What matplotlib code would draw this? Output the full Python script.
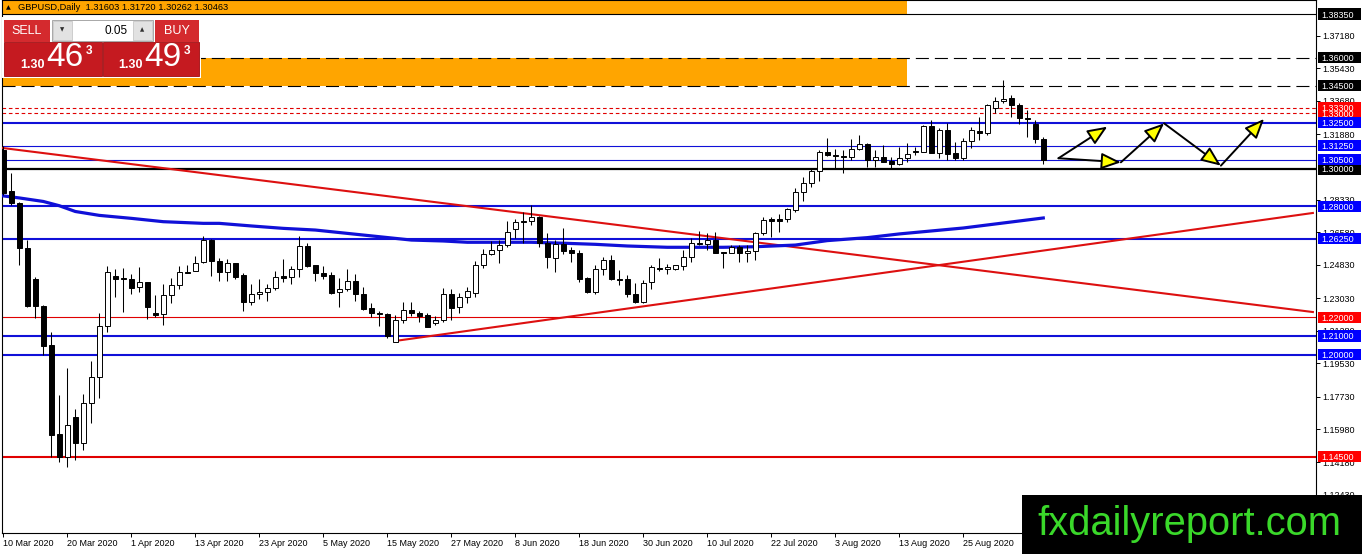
import numpy as np
import pandas as pd
import matplotlib
matplotlib.use('Agg')
import matplotlib.pyplot as plt
from matplotlib.patches import Rectangle, FancyArrowPatch

plt.rcParams['font.family'] = ['Liberation Sans', 'DejaVu Sans']
plt.rcParams['lines.scale_dashes'] = False

W, H = 1362, 554

# --- data ---
dates = pd.bdate_range('2020-03-10', '2020-09-08')

opens = [1.3102, 1.2881, 1.2818, 1.2573, 1.2407, 1.2263, 1.2051, 1.1572, 1.1449, 1.1665,
         1.1525, 1.1737, 1.1877, 1.2154, 1.2423, 1.2410, 1.2407, 1.2362, 1.2389, 1.2224,
         1.2218, 1.2321, 1.2373, 1.2446, 1.2452, 1.2497, 1.2617, 1.2506, 1.2446, 1.2492,
         1.2429, 1.2285, 1.2325, 1.2335, 1.2357, 1.2423, 1.2416, 1.2459, 1.2585, 1.2481,
         1.2438, 1.2429, 1.2335, 1.2352, 1.2396, 1.2326, 1.2249, 1.2222, 1.2218, 1.2069,
         1.2186, 1.2240, 1.2225, 1.2213, 1.2170, 1.2186, 1.2325, 1.2255, 1.2309, 1.2333,
         1.2481, 1.2540, 1.2562, 1.2590, 1.2677, 1.2720, 1.2718, 1.2743, 1.2600, 1.2522,
         1.2594, 1.2563, 1.2546, 1.2411, 1.2335, 1.2461, 1.2510, 1.2407, 1.2405, 1.2325,
         1.2285, 1.2393, 1.2468, 1.2459, 1.2459, 1.2479, 1.2527, 1.2600, 1.2594, 1.2617,
         1.2550, 1.2546, 1.2581, 1.2546, 1.2558, 1.2653, 1.2728, 1.2731, 1.2729, 1.2779,
         1.2874, 1.2923, 1.2989, 1.3090, 1.3077, 1.3070, 1.3063, 1.3106, 1.3133, 1.3049,
         1.3063, 1.3043, 1.3025, 1.3058, 1.3095, 1.3093, 1.3232, 1.3088, 1.3210, 1.3085,
         1.3058, 1.3151, 1.3205, 1.3192, 1.3330, 1.3367, 1.3381, 1.3345, 1.3273, 1.3243,
         1.31603]
highs = [1.3125, 1.2977, 1.2824, 1.2617, 1.2420, 1.2267, 1.2123, 1.1782, 1.1926, 1.1705,
         1.1787, 1.1967, 1.2222, 1.2477, 1.2459, 1.2468, 1.2432, 1.2473, 1.2393, 1.2321,
         1.2380, 1.2414, 1.2477, 1.2483, 1.2531, 1.2641, 1.2620, 1.2519, 1.2513, 1.2494,
         1.2438, 1.2380, 1.2407, 1.2379, 1.2452, 1.2515, 1.2477, 1.2639, 1.2600, 1.2483,
         1.2477, 1.2443, 1.2411, 1.2461, 1.2434, 1.2366, 1.2279, 1.2236, 1.2225, 1.2213,
         1.2285, 1.2281, 1.2235, 1.2225, 1.2208, 1.2357, 1.2352, 1.2330, 1.2366, 1.2504,
         1.2567, 1.2612, 1.2617, 1.2721, 1.2729, 1.2770, 1.2806, 1.2747, 1.2653, 1.2617,
         1.2680, 1.2581, 1.2563, 1.2416, 1.2483, 1.2527, 1.2536, 1.2456, 1.2429, 1.2384,
         1.2402, 1.2483, 1.2522, 1.2486, 1.2483, 1.2563, 1.2626, 1.2666, 1.2653, 1.2662,
         1.2554, 1.2590, 1.2590, 1.2590, 1.2662, 1.2743, 1.2741, 1.2756, 1.2788, 1.2896,
         1.2955, 1.3007, 1.3102, 1.3165, 1.3106, 1.3102, 1.3160, 1.3183, 1.3142, 1.3102,
         1.3129, 1.3066, 1.3120, 1.3139, 1.3120, 1.3237, 1.3264, 1.3223, 1.3246, 1.3147,
         1.3169, 1.3228, 1.3282, 1.3349, 1.3390, 1.3480, 1.3399, 1.3354, 1.3318, 1.3264,
         1.31720]
lows = [1.2860, 1.2806, 1.2483, 1.2258, 1.2195, 1.1997, 1.1449, 1.1422, 1.1395, 1.1432,
        1.1485, 1.1629, 1.1764, 1.2123, 1.2309, 1.2231, 1.2325, 1.2339, 1.2192, 1.2204,
        1.2159, 1.2279, 1.2352, 1.2437, 1.2450, 1.2496, 1.2425, 1.2398, 1.2398, 1.2407,
        1.2236, 1.2267, 1.2298, 1.2290, 1.2348, 1.2393, 1.2379, 1.2420, 1.2470, 1.2398,
        1.2405, 1.2325, 1.2258, 1.2344, 1.2290, 1.2240, 1.2204, 1.2154, 1.2088, 1.2068,
        1.2172, 1.2208, 1.2177, 1.2147, 1.2159, 1.2175, 1.2186, 1.2225, 1.2279, 1.2312,
        1.2468, 1.2539, 1.2492, 1.2578, 1.2626, 1.2603, 1.2698, 1.2581, 1.2465, 1.2446,
        1.2540, 1.2500, 1.2393, 1.2330, 1.2325, 1.2429, 1.2402, 1.2375, 1.2312, 1.2276,
        1.2276, 1.2353, 1.2450, 1.2432, 1.2458, 1.2456, 1.2500, 1.2593, 1.2563, 1.2545,
        1.2468, 1.2545, 1.2500, 1.2500, 1.2510, 1.2644, 1.2635, 1.2662, 1.2716, 1.2770,
        1.2829, 1.2905, 1.2937, 1.3070, 1.3004, 1.2977, 1.3049, 1.3102, 1.3012, 1.3012,
        1.3036, 1.3007, 1.3024, 1.3039, 1.3075, 1.3092, 1.3086, 1.3058, 1.3049, 1.3049,
        1.3049, 1.3112, 1.3156, 1.3183, 1.3300, 1.3354, 1.3282, 1.3241, 1.3171, 1.3139,
        1.30262]
closes = [1.2871, 1.2815, 1.2573, 1.2263, 1.2262, 1.2048, 1.1566, 1.1449, 1.1620, 1.1525,
          1.1737, 1.1877, 1.2154, 1.2443, 1.2405, 1.2407, 1.2360, 1.2389, 1.2255, 1.2215,
          1.2319, 1.2373, 1.2446, 1.2438, 1.2492, 1.2617, 1.2506, 1.2446, 1.2492, 1.2416,
          1.2285, 1.2325, 1.2335, 1.2360, 1.2420, 1.2414, 1.2459, 1.2585, 1.2477, 1.2438,
          1.2423, 1.2333, 1.2352, 1.2396, 1.2326, 1.2245, 1.2222, 1.2217, 1.2100, 1.2186,
          1.2240, 1.2225, 1.2208, 1.2150, 1.2186, 1.2325, 1.2249, 1.2309, 1.2342, 1.2481,
          1.2540, 1.2562, 1.2590, 1.2659, 1.2713, 1.2713, 1.2740, 1.2600, 1.2527, 1.2594,
          1.2558, 1.2546, 1.2409, 1.2335, 1.2461, 1.2510, 1.2405, 1.2404, 1.2325, 1.2285,
          1.2387, 1.2470, 1.2459, 1.2472, 1.2481, 1.2527, 1.2600, 1.2594, 1.2617, 1.2546,
          1.2547, 1.2581, 1.2546, 1.2558, 1.2653, 1.2725, 1.2722, 1.2721, 1.2783, 1.2878,
          1.2923, 1.2989, 1.3090, 1.3077, 1.3072, 1.3066, 1.3106, 1.3133, 1.3049, 1.3063,
          1.3039, 1.3025, 1.3058, 1.3079, 1.3090, 1.3232, 1.3088, 1.3210, 1.3081, 1.3058,
          1.3151, 1.3210, 1.3192, 1.3345, 1.3367, 1.3377, 1.3345, 1.3273, 1.3271, 1.3160,
          1.30463]

# moving average, read at a few bars
ma_bars = [0, 2, 5, 7, 9, 12, 16, 20, 25, 27, 31, 35, 39, 43, 47, 51, 55, 58, 66, 70,
           74, 78, 83, 90, 94, 99, 103, 108, 112, 120, 125, 130]
ma_vals = [1.2855, 1.2844, 1.2825, 1.2802, 1.2771, 1.2750, 1.2734, 1.2716, 1.2707, 1.2707,
           1.2693, 1.2680, 1.2671, 1.2653, 1.2635, 1.2617, 1.2612, 1.2605, 1.2605, 1.2600,
           1.2594, 1.2585, 1.2578, 1.2578, 1.2581, 1.2590, 1.2614, 1.2630, 1.2650, 1.2682,
           1.2709, 1.2736]

# horizontal levels
black_levels = [1.3835]
black_thick_levels = [1.3000]
dashed_levels = [1.3600, 1.3450]
red_dotted_levels = [1.3330, 1.3300]
blue_thick_levels = [1.3250, 1.2800, 1.2625, 1.2100, 1.2000]
blue_thin_levels = [1.3125, 1.3050]
red_thin_levels = [1.2200]
red_thick_levels = [1.1450]

# price tags on the right scale
black_tags = [1.3835, 1.3600, 1.3450, 1.3000]
red_tags = [1.3300, 1.3330, 1.2200, 1.1450]
blue_tags = [1.3250, 1.3125, 1.3050, 1.2800, 1.2625, 1.2100, 1.2000]
scale_ticks = [1.3718, 1.3543, 1.3368, 1.3188, 1.2833, 1.2658, 1.2483, 1.2303,
               1.2128, 1.1953, 1.1773, 1.1598, 1.1418, 1.1243]

# orange zones (bar range, price range)
zone_bars = [-0.2, 112.96]
zones = [(1.3450, 1.3600), (1.3835, 1.4000)]

# trend lines (bar, price) pairs
trend_down = ([-0.04, 163.7], [1.3113, 1.2229])
trend_up = ([48.96, 163.7], [1.2073, 1.2763])

# projected path arrows
arrow_from = [(131.9, 1.3058), (131.9, 1.3058), (139.7, 1.3036), (145.1, 1.3246), (152.2, 1.3018)]
arrow_to = [(138.0, 1.3228), (139.7, 1.3036), (145.1, 1.3246), (152.2, 1.3018), (157.6, 1.3270)]

bid_price = 1.30463
ask_price = 1.30493
lot_size = '0.05'

# --- figure ---
fig = plt.figure(figsize=(W / 100, H / 100), dpi=100)
ax = fig.add_axes([2 / W, 21 / H, 1314 / W, 533 / H])
ax.set_xlim(-0.1625, 164.09)
ax.set_ylim(1.10380, 1.39109)
for s in ax.spines.values():
    s.set_linewidth(0.8)
    s.set_color('black')

orange = '#ffa500'
blue = '#1010d8'
red = '#e00000'

for lo, hi in zones:
    ax.add_patch(Rectangle((zone_bars[0], lo), zone_bars[1] - zone_bars[0], hi - lo,
                           fc=orange, ec='none', zorder=1))

for p in black_levels:
    ax.axhline(p, color='black', lw=0.8, zorder=2)
for p in black_thick_levels:
    ax.axhline(p, color='black', lw=1.6, zorder=2)
for p in dashed_levels:
    ax.axhline(p, color='black', lw=0.8, dashes=(9.4, 4.3), zorder=2)
for p in red_dotted_levels:
    ax.axhline(p, color=red, lw=0.8, dashes=(2.6, 2.0), zorder=2)
for p in blue_thick_levels:
    ax.axhline(p, color=blue, lw=1.5, zorder=2)
for p in blue_thin_levels:
    ax.axhline(p, color=blue, lw=0.8, zorder=2)
for p in red_thin_levels:
    ax.axhline(p, color=red, lw=0.8, zorder=2)
for p in red_thick_levels:
    ax.axhline(p, color=red, lw=1.5, zorder=2)

ax.plot(*trend_down, color='#dd1010', lw=1.5, zorder=3)
ax.plot(*trend_up, color='#dd1010', lw=1.5, zorder=3)
ax.plot(ma_bars, ma_vals, color=blue, lw=2.3, zorder=3, solid_joinstyle='round')

# candles
o = np.array(opens)
h = np.array(highs)
l = np.array(lows)
c = np.array(closes)
x = np.arange(len(o))
up = c >= o
ax.vlines(x, l, h, color='black', lw=0.75, zorder=5)
ax.bar(x, np.abs(c - o), bottom=np.minimum(o, c), width=0.6,
       color=np.where(up, 'white', 'black'), edgecolor='black', linewidth=0.7, zorder=6)

for a, b in zip(arrow_from, arrow_to):
    ax.add_patch(FancyArrowPatch(a, b, arrowstyle='-|>,head_length=1.2,head_width=0.5',
                                 mutation_scale=10, fc='#ffff00', ec='black', lw=1.4,
                                 shrinkA=0, shrinkB=0, zorder=7))

# price scale
ax.yaxis.tick_right()
ax.set_yticks(scale_ticks)
ax.set_yticklabels([f'{v:.5f}' for v in scale_ticks])
ax.tick_params(axis='y', direction='out', length=3, width=0.7, pad=1.5, labelsize=6.5)

tick_bars = list(range(0, len(dates), 8))
ax.set_xticks(tick_bars)
ax.set_xticklabels([f"{dates[i].day} {dates[i].strftime('%b %Y')}" for i in tick_bars],
                   ha='left')
ax.tick_params(axis='x', direction='out', length=3, width=0.7, pad=1.5, labelsize=6.5)

half = 5.6 * (1.39109 - 1.10380) / 533
tr = ax.get_yaxis_transform()
for tags, col in ((black_tags, 'black'), (red_tags, '#ff0000'), (blue_tags, '#0000ff')):
    for p in tags:
        ax.add_patch(Rectangle((1 + 2 / 1314, p - half), 43 / 1314, 2 * half, transform=tr,
                               fc=col, ec='none', clip_on=False, zorder=10))
        ax.text(1 + 5 / 1314, p, f'{p:.5f}', transform=tr, color='white', fontsize=6.5,
                va='center_baseline', ha='left', clip_on=False, zorder=11)


def fig_box(x0, y0, x1, y1, **kw):
    fig.add_artist(Rectangle((x0 / W, 1 - y1 / H), (x1 - x0) / W, (y1 - y0) / H,
                             transform=fig.transFigure, **kw))


def fig_label(xp, yp, s, **kw):
    fig.text(xp / W, 1 - yp / H, s, **kw)


# header line
fig_label(8, 7.5, '\u25b2', fontsize=4.5, va='center', ha='center', zorder=8,
          family=['DejaVu Sans'])
fig_label(18, 7.5, f'GBPUSD,Daily  {o[-1]:.5f} {h[-1]:.5f} {l[-1]:.5f} {c[-1]:.5f}',
          fontsize=6.7, va='center', ha='left', zorder=8)

# one-click trading panel
fig_box(2, 17, 201, 78, fc='white', ec='none', zorder=5)
fig_box(3.5, 20, 50, 41.5, fc='#d42a2e', ec='none', zorder=6)
fig_box(155, 20, 199, 41.5, fc='#d42a2e', ec='none', zorder=6)
fig_box(3.5, 41.5, 101.5, 76, fc='#c51a20', ec='#a00c10', lw=0.6, zorder=6)
fig_box(103.5, 41.5, 199, 76, fc='#c51a20', ec='#a00c10', lw=0.6, zorder=6)
fig_box(52, 20, 153, 40.5, fc='white', ec='#a8a8a8', lw=0.7, zorder=6)
fig_box(53, 21, 72, 39.5, fc='#e2e2e2', ec='#c0c0c0', lw=0.5, zorder=7)
fig_box(133, 21, 152, 39.5, fc='#e2e2e2', ec='#c0c0c0', lw=0.5, zorder=7)
fig_label(62.5, 30, '\u25bc', fontsize=4, ha='center', va='center', zorder=8,
          family=['DejaVu Sans'], color='#303030')
fig_label(142.5, 30, '\u25b2', fontsize=4, ha='center', va='center', zorder=8,
          family=['DejaVu Sans'], color='#303030')
fig_label(128, 30.5, lot_size, fontsize=8.5, ha='right', va='center', zorder=8)
fig_label(26.5, 31, 'SELL', fontsize=9, color='white', ha='center', va='center', zorder=8)
fig_label(177, 31, 'BUY', fontsize=9, color='white', ha='center', va='center', zorder=8)

for price, x0 in ((bid_price, 0), (ask_price, 98)):
    s = f'{price:.5f}'
    fig_label(x0 + 32.5, 64.5, s[:4], fontsize=9, fontweight='bold', color='white',
              ha='center', va='center', zorder=8)
    fig_label(x0 + 64.5, 58, s[4:6], fontsize=24, color='white', ha='center', va='center',
              zorder=8)
    fig_label(x0 + 89.5, 51, s[6], fontsize=8.5, fontweight='bold', color='white',
              ha='center', va='center', zorder=8)

# watermark
fig_box(1022, 495, 1362, 554, fc='black', ec='none', zorder=9)
fig_label(1037, 535, 'fxdailyreport.com', fontsize=28.7, color='#3ad82a', ha='left',
          va='baseline', zorder=10)

fig.savefig('out.png', dpi=100)
